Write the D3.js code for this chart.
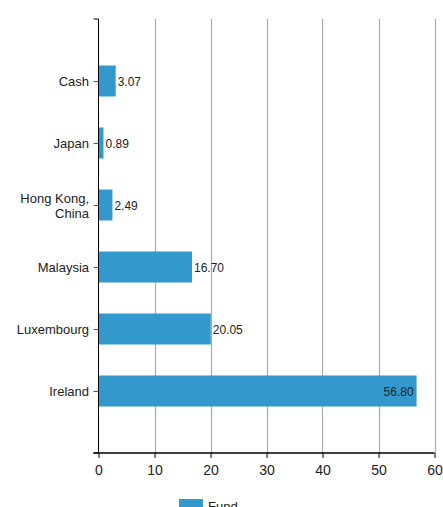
<!DOCTYPE html>
<html><head><meta charset="utf-8">
<script src="https://cdn.jsdelivr.net/npm/d3@7"></script>
<style>body{margin:0;background:#fff}svg{display:block;font-family:"Liberation Sans",Arial,sans-serif}</style>
</head><body><svg id="c" width="443" height="507"></svg>
<script>
const categories = ["Cash","Japan","Hong Kong, China","Malaysia","Luxembourg","Ireland"];
const values = [3.07,0.89,2.49,16.70,20.05,56.80];
const xTicks = [0,10,20,30,40,50,60];
const seriesName = "Fund";
const color = "#3399cc";

(function(){
const svg = d3.select("#c");
const mL = 98.5, mR = 434.5, mT = 19, mB = 453;
const x = d3.scaleLinear().domain([0,60]).range([mL,mR]);
const y = d3.scalePoint().domain(categories).range([mT,mB]).padding(1);
const bh = y.step()/2;

// grid
svg.append("g").selectAll("line").data(xTicks.slice(1)).join("line")
  .attr("x1",d=>Math.round(x(d))+0.5).attr("x2",d=>Math.round(x(d))+0.5)
  .attr("y1",mT).attr("y2",mB).attr("stroke","#aaa").attr("stroke-width",1.2);

// bars
svg.append("g").selectAll("rect").data(values).join("rect")
  .attr("x",x(0)).attr("y",(d,i)=>y(categories[i])-bh/2)
  .attr("width",d=>x(d)-x(0)).attr("height",bh).attr("fill",color);

// value labels
svg.append("g").selectAll("text").data(values).join("text")
  .attr("x",d=> d>50 ? x(d)-3 : x(d)+2)
  .attr("y",(d,i)=>y(categories[i])+4.5)
  .attr("text-anchor",d=>d>50?"end":"start")
  .attr("font-size",12).attr("fill","#222")
  .text(d=>d.toFixed(2));

// y axis
const ya = svg.append("g").attr("transform",`translate(${mL},0)`)
  .call(d3.axisLeft(y).tickSize(5).tickSizeOuter(5).tickFormat(""));
ya.selectAll("path,line").attr("stroke","#000");
ya.select("path").attr("d",`M-5,${mT}H0V${mB}H-5`);
ya.selectAll(".tick line").attr("stroke","#555");
// category labels
categories.forEach(c=>{
  const parts = c.includes(", ") ? [c.split(", ")[0]+",", c.split(", ")[1]] : [c];
  const t = svg.append("text").attr("text-anchor","end").attr("font-size",13).attr("fill","#222");
  parts.forEach((p,j)=>{
    t.append("tspan").attr("x",mL-9.5)
     .attr("y",y(c)+5+(j-(parts.length-1)/2)*15).text(p);
  });
});

// x axis
const xa = svg.append("g").attr("transform",`translate(0,${mB})`)
  .call(d3.axisBottom(x).tickValues(xTicks).tickSize(5).tickSizeOuter(0));
xa.select("path").attr("d",`M${mL-5},0H${mR}`).attr("stroke","#000").attr("stroke-width",1.3);
xa.selectAll(".tick line").attr("stroke","#000");
xa.selectAll(".tick text").attr("font-size",14).attr("fill","#222").attr("dy","1.0em")
  .attr("font-family","Liberation Sans, Arial, sans-serif");

// legend
svg.append("rect").attr("x",179).attr("y",499).attr("width",24).attr("height",12).attr("fill",color);
svg.append("text").attr("x",208).attr("y",511).attr("font-size",13).attr("fill","#222").text(seriesName);
})();
</script></body></html>
